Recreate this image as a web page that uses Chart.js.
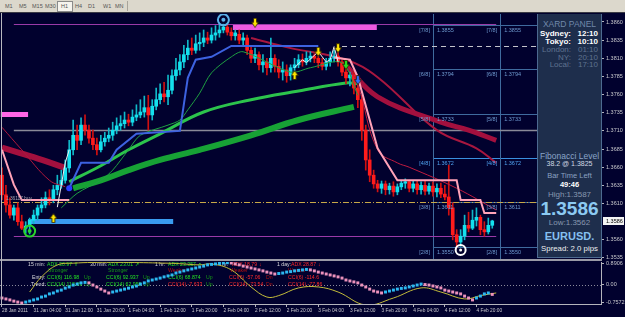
<!DOCTYPE html>
<html>
<head>
<meta charset="utf-8">
<script src="https://cdn.jsdelivr.net/npm/chart.js@4.4.0/dist/chart.umd.min.js"></script>
<style>
  html, body { margin: 0; padding: 0; }
  body { width: 625px; height: 317px; overflow: hidden; position: relative; background: #01012e;
         font-family: "Liberation Sans", Arial, sans-serif; }
  #toolbar { position: absolute; left: 0; top: 0; width: 625px; height: 12px; background: #dcd8cc; border-bottom: 1px solid #3a3a44; }
  #toolbar span { position: absolute; top: 3px; font-size: 5.5px; line-height: 6px; color: #555; }
  #toolbar .on { top: 1px; height: 9px; width: 14px; border: 1px solid #8a8a8a; background: #f6f4ee; }
  #toolbar .sep { position: absolute; top: 1px; width: 1px; height: 10px; background: #a8a49a; }
  canvas { position: absolute; left: 0; }
  #sep { position: absolute; left: 0; top: 259px; width: 602px; height: 2px; background: #9a9aa6; }
  #frame { position: absolute; left: 1px; top: 13px; width: 1px; height: 292px; background: #b8b8c0; }
  #panel { position: absolute; left: 537px; top: 14px; width: 63px; height: 243px; background: #1e2e4c; border: 1px solid #4d6a90; border-top: 0; }
  #panel div { position: absolute; white-space: nowrap; }
  .c { left: 0; width: 63px; text-align: center; }
  .l { left: 0; width: 33px; text-align: right; }
  .r { left: 34px; width: 26px; text-align: right; }
</style>
</head>
<body>
<div id="toolbar">
  <span style="left:5px">M1</span>
  <span style="left:19px">M5</span>
  <span style="left:32px">M15</span>
  <span style="left:45px">M30</span>
  <div class="on" style="position:absolute;left:57px"></div>
  <span style="left:61px">H1</span>
  <span style="left:75px">H4</span>
  <span style="left:88px">D1</span>
  <span style="left:103px">W1</span>
  <span style="left:115px">MN</span>
  <div class="sep" style="left:127px"></div>
</div>
<canvas id="main" width="625" height="248" style="top:14px"></canvas>
<canvas id="sub" width="625" height="56" style="top:261px"></canvas>
<div id="sep"></div>
<div id="frame"></div>
<div id="panel">
  <div class="c" style="top:5px;font-size:8.5px;color:#7088aa">XARD PANEL</div>
  <div class="l" style="top:15px;font-size:8px;font-weight:bold;color:#fff">Sydney:</div>
  <div class="r" style="top:15px;font-size:8px;font-weight:bold;color:#fff">12:10</div>
  <div class="l" style="top:23px;font-size:8px;font-weight:bold;color:#fff">Tokyo:</div>
  <div class="r" style="top:23px;font-size:8px;font-weight:bold;color:#fff">10:10</div>
  <div class="l" style="top:31px;font-size:8px;color:#5f7290">London:</div>
  <div class="r" style="top:31px;font-size:8px;color:#5f7290">01:10</div>
  <div class="l" style="top:39px;font-size:8px;color:#5f7290">NY:</div>
  <div class="r" style="top:39px;font-size:8px;color:#5f7290">20:10</div>
  <div class="l" style="top:46px;font-size:8px;color:#5f7290">Local:</div>
  <div class="r" style="top:46px;font-size:8px;color:#5f7290">17:10</div>
  <div class="c" style="top:137px;font-size:8.5px;color:#8aa4c8">Fibonacci Level</div>
  <div class="c" style="top:146px;font-size:7px;color:#d0d8e4">38.2 @ 1.3825</div>
  <div class="c" style="top:157px;font-size:7.5px;color:#8aa0c0">Bar Time Left</div>
  <div class="c" style="top:166px;font-size:7.5px;font-weight:bold;color:#fff">49:46</div>
  <div class="c" style="top:176px;font-size:8px;color:#8898b0">High:1.3587</div>
  <div class="c" style="top:184px;font-size:19px;line-height:22px;font-weight:bold;color:#8ccaf2">1.3586</div>
  <div class="c" style="top:204px;font-size:8px;color:#8898b0">Low:1.3562</div>
  <div class="c" style="top:216px;font-size:11px;font-weight:bold;color:#86c0f0">EURUSD.</div>
  <div class="c" style="top:230px;font-size:7.8px;color:#f0f0f0">Spread: 2.0 pips</div>
</div>
<script>
// H1 candles, bar 0 = 28 Jan 2011 20:00
const opens = [1.3649,1.3622,1.3608,1.3594,1.3604,1.3585,1.3576,1.3579,1.3587,1.3594,
  1.3604,1.3608,1.3618,1.3615,1.3629,1.3635,1.3642,1.3659,1.3684,1.3704,
  1.3697,1.3718,1.3711,1.3700,1.3691,1.3684,1.3695,1.3700,1.3704,1.3711,
  1.3717,1.3720,1.3725,1.3722,1.3729,1.3732,1.3736,1.3742,1.3732,1.3744,
  1.3753,1.3761,1.3757,1.3766,1.3786,1.3794,1.3805,1.3815,1.3824,1.3821,
  1.3830,1.3832,1.3838,1.3835,1.3842,1.3845,1.3849,1.3853,1.3846,1.3841,
  1.3843,1.3835,1.3838,1.3821,1.3810,1.3815,1.3801,1.3805,1.3797,1.3810,
  1.3799,1.3791,1.3794,1.3786,1.3797,1.3801,1.3808,1.3805,1.3810,1.3813,
  1.3810,1.3804,1.3799,1.3805,1.3810,1.3813,1.3805,1.3791,1.3783,1.3787,
  1.3769,1.3753,1.3711,1.3670,1.3649,1.3637,1.3631,1.3637,1.3629,1.3634,
  1.3626,1.3633,1.3638,1.3640,1.3631,1.3637,1.3629,1.3635,1.3627,1.3634,
  1.3626,1.3631,1.3623,1.3619,1.3604,1.3567,1.3557,1.3565,1.3580,1.3576,
  1.3587,1.3591,1.3574,1.3571,1.3580];
const highs = [1.3659,1.3635,1.3618,1.3608,1.3611,1.3594,1.3585,1.3590,1.3601,1.3608,
  1.3618,1.3626,1.3629,1.3635,1.3649,1.3656,1.3670,1.3697,1.3725,1.3718,
  1.3728,1.3732,1.3718,1.3711,1.3700,1.3704,1.3708,1.3714,1.3722,1.3728,
  1.3731,1.3736,1.3733,1.3739,1.3746,1.3753,1.3758,1.3759,1.3753,1.3769,
  1.3775,1.3777,1.3787,1.3794,1.3810,1.3815,1.3828,1.3835,1.3838,1.3842,
  1.3845,1.3849,1.3846,1.3852,1.3855,1.3856,1.3857,1.3856,1.3852,1.3849,
  1.3849,1.3845,1.3842,1.3828,1.3824,1.3819,1.3815,1.3810,1.3838,1.3815,
  1.3808,1.3805,1.3801,1.3801,1.3810,1.3815,1.3816,1.3819,1.3819,1.3816,
  1.3813,1.3810,1.3810,1.3819,1.3821,1.3819,1.3808,1.3797,1.3791,1.3791,
  1.3773,1.3759,1.3718,1.3684,1.3656,1.3642,1.3641,1.3641,1.3638,1.3640,
  1.3637,1.3642,1.3644,1.3642,1.3641,1.3641,1.3640,1.3641,1.3638,1.3640,
  1.3637,1.3638,1.3635,1.3663,1.3611,1.3574,1.3574,1.3594,1.3598,1.3601,
  1.3604,1.3594,1.3585,1.3590,1.3587];
const lows = [1.3615,1.3598,1.3590,1.3587,1.3580,1.3574,1.3569,1.3568,1.3582,1.3587,
  1.3598,1.3604,1.3608,1.3611,1.3622,1.3631,1.3638,1.3653,1.3677,1.3684,
  1.3691,1.3704,1.3693,1.3684,1.3677,1.3681,1.3689,1.3695,1.3697,1.3706,
  1.3711,1.3714,1.3717,1.3717,1.3724,1.3728,1.3729,1.3711,1.3725,1.3739,
  1.3747,1.3750,1.3746,1.3761,1.3780,1.3787,1.3797,1.3808,1.3815,1.3817,
  1.3821,1.3826,1.3830,1.3831,1.3835,1.3839,1.3845,1.3842,1.3835,1.3835,
  1.3830,1.3828,1.3815,1.3804,1.3804,1.3794,1.3791,1.3787,1.3791,1.3791,
  1.3783,1.3780,1.3777,1.3780,1.3791,1.3797,1.3799,1.3801,1.3805,1.3804,
  1.3797,1.3794,1.3794,1.3799,1.3805,1.3799,1.3786,1.3775,1.3772,1.3761,
  1.3742,1.3697,1.3656,1.3640,1.3631,1.3626,1.3624,1.3622,1.3623,1.3620,
  1.3622,1.3629,1.3631,1.3626,1.3626,1.3623,1.3623,1.3622,1.3623,1.3620,
  1.3619,1.3618,1.3615,1.3594,1.3560,1.3549,1.3551,1.3560,1.3571,1.3574,
  1.3579,1.3567,1.3565,1.3568,1.3576];
const closes = [1.3622,1.3608,1.3594,1.3604,1.3585,1.3576,1.3579,1.3587,1.3594,1.3604,
  1.3608,1.3618,1.3615,1.3629,1.3635,1.3642,1.3659,1.3684,1.3704,1.3697,
  1.3718,1.3711,1.3700,1.3691,1.3684,1.3695,1.3700,1.3704,1.3711,1.3717,
  1.3720,1.3725,1.3722,1.3729,1.3732,1.3736,1.3742,1.3732,1.3744,1.3753,
  1.3761,1.3757,1.3766,1.3786,1.3794,1.3805,1.3815,1.3824,1.3821,1.3830,
  1.3832,1.3838,1.3835,1.3842,1.3845,1.3849,1.3853,1.3846,1.3841,1.3845,
  1.3835,1.3838,1.3821,1.3810,1.3815,1.3801,1.3805,1.3797,1.3810,1.3799,
  1.3791,1.3794,1.3786,1.3797,1.3801,1.3808,1.3805,1.3810,1.3813,1.3810,
  1.3804,1.3799,1.3805,1.3810,1.3813,1.3805,1.3791,1.3783,1.3787,1.3769,
  1.3753,1.3711,1.3670,1.3649,1.3637,1.3631,1.3637,1.3629,1.3634,1.3626,
  1.3633,1.3638,1.3640,1.3631,1.3637,1.3629,1.3635,1.3627,1.3634,1.3626,
  1.3631,1.3623,1.3619,1.3604,1.3567,1.3557,1.3565,1.3580,1.3576,1.3587,
  1.3591,1.3574,1.3571,1.3580,1.3586];

// indicator lines, [bar, price] knots
const blueTrail = [[17,1.3631],[20,1.3666],[27,1.3666],[29,1.3684],[34,1.3706],[45,1.3710],[47,1.3783],[49,1.3808],[53,1.3812],[58,1.3827],[80,1.3827]];
const pinkLeft = [[0,1.3684],[3,1.3636],[5,1.3615],[17,1.3615]];
const pinkRight = [[84,1.3811],[88,1.3808],[90,1.3784],[95,1.3686],[100,1.3642],[115,1.3642],[116,1.3615],[121,1.3615],[122,1.3597],[125,1.3597]];
const whiteUp = [[14,1.3605],[16,1.3666],[17,1.3684]];
const whiteZig = [[74,1.3797],[76,1.3808],[77,1.3804],[80,1.3819],[82,1.3805],[83,1.3808],[84,1.3826],[85,1.3805]];
const greenThin = [[15,1.3604],[19,1.3624],[25,1.3642],[28,1.3656],[32,1.3684],[35,1.3704],[42,1.3718],[45,1.3725],[47,1.3739],[50,1.3762],[53,1.3790],[58,1.3812],[61,1.3819],[73,1.3791],[78,1.3797],[86,1.3804],[90,1.3759]];
const greenUpper = [[17,1.3640],[25,1.3662],[32,1.3684],[40,1.3706],[51,1.3736],[63,1.3753],[75,1.3765],[87,1.3776],[90,1.3775]];
const greenLower = [[18,1.3631],[25,1.3642],[32,1.3656],[40,1.3670],[50,1.3684],[63,1.3704],[75,1.3725],[89,1.3743]];
const crimsonLeft = [[0,1.3687],[8,1.3674],[16,1.3659]];
const crimsonLeftThin = [[0,1.3715],[5,1.3684],[12,1.3642],[16,1.3633]];
const crimsonMid = [[63,1.3838],[73,1.3824],[87,1.3808],[95,1.3784],[110,1.3711],[120,1.3686],[125,1.3666]];
const crimsonThick = [[87,1.3800],[95,1.3757],[111,1.3722],[118,1.3711],[125,1.3697]];
const crimsonThin = [[87,1.3805],[90,1.3773],[95,1.3684],[100,1.3666],[103,1.3660],[115,1.3631],[125,1.3601]];

// signal marks
const upYellow = [[13,1.3590],[74,1.3787]];
const downYellow = [[64,1.3859],[80,1.3819],[85,1.3824]];
const downGreen = [[87,1.3801]];
const downBlue = [[90,1.3780]];
const ringGreen = [[7,1.3572]];
const ringBlue = [[56,1.3863]];
const ringWhite = [[116,1.3546]];
const dotBlue = [[17,1.3631]];

// levels
const fibLabels = ["[7/8]", "[6/8]", "[5/8]", "[4/8]", "[3/8]", "[2/8]"];
const fibPrices = [1.3855, 1.3794, 1.3733, 1.3672, 1.3611, 1.3550];
const fibBars = [109, 126];
const purpleTop = 1.3856, purpleLow = 1.3564, grayLevel = 1.3710, fibTarget = 1.3826, buyLevel = 1.3612;
const zonePrices = [1.3733, 1.3852, 1.3585];
const zoneFrom = [-0.3, 58.4, 6.6];
const zoneTo = [6.6, 94.8, 43.3];
const currentPrice = 1.3586;
const priceTicks = [1.3860,1.3835,1.3810,1.3785,1.3760,1.3735,1.3710,1.3685,1.3660,1.3635,1.3610,1.3560,1.3535];

// lower window
const cci = [-0.55,-0.59,-0.63,-0.68,-0.72,-0.76,-0.72,-0.68,-0.63,-0.59,
  -0.51,-0.47,-0.38,-0.34,-0.26,-0.22,-0.14,-0.09,-0.01,0.03,
  0.08,0.10,0.08,-0.01,-0.09,-0.18,-0.26,-0.34,-0.30,-0.26,
  -0.22,-0.18,-0.14,-0.09,-0.05,0.03,0.08,0.16,0.20,0.24,
  0.28,0.33,0.37,0.41,0.49,0.53,0.58,0.62,0.66,0.70,
  0.74,0.78,0.83,0.85,0.87,0.89,0.91,0.92,0.91,0.87,
  0.83,0.78,0.74,0.70,0.66,0.62,0.58,0.53,0.49,0.45,
  0.47,0.49,0.53,0.55,0.58,0.60,0.62,0.64,0.62,0.58,
  0.53,0.49,0.45,0.41,0.37,0.33,0.28,0.20,0.16,0.12,
  0.08,-0.01,-0.09,-0.18,-0.26,-0.30,-0.34,-0.30,-0.26,-0.22,
  -0.18,-0.15,-0.13,-0.09,-0.05,-0.01,0.03,0.01,-0.01,-0.05,
  -0.09,-0.13,-0.22,-0.26,-0.30,-0.34,-0.38,-0.47,-0.55,-0.63,
  -0.55,-0.47,-0.38,-0.34,-0.40];
const yellowWave = [[7,-0.30],[10,0.33],[14,0.83],[18,0.90],[23,0.93],[32,0.93],[42,0.90],[45,0.88],[50,0.83],[53,0.87],[58,0.62],[63,-0.09],[67,-0.51],[70,-0.45],[75,-0.13],[80,-0.09],[85,-0.30],[92,-0.84],[99,-0.55],[106,-0.13],[111,-0.30],[117,-0.59],[121,-0.45],[125,-0.34]];
const cciTicks = [0.8906, 0, -0.7572];

const tickBars = [0,8,16,24,32,40,48,56,64,72,80,88,96,104,112,120];
const tickText = ["28 Jan 2011","31 Jan 04:00","31 Jan 12:00","31 Jan 20:00","1 Feb 04:00","1 Feb 12:00",
  "1 Feb 20:00","2 Feb 04:00","2 Feb 12:00","2 Feb 20:00","3 Feb 04:00","3 Feb 12:00","3 Feb 20:00",
  "4 Feb 04:00","4 Feb 12:00","4 Feb 20:00"];

const SLOTS = 152;
const slots = Array.from({ length: SLOTS }, (_, i) => String(i));
const pts = knots => knots.map(([b, v]) => ({ x: String(b), y: v }));

const FONT = '"Liberation Sans", Arial, sans-serif';
Chart.defaults.font.family = FONT;
const AXIS = '#b4b4bc';
const UP = '#14e0ee', DOWN = '#ff1c1c';

function arrowSprite(color, down) {
  const c = document.createElement('canvas');
  c.width = 8; c.height = 10;
  const g = c.getContext('2d');
  g.fillStyle = color;
  g.strokeStyle = 'rgba(40,30,0,0.8)';
  g.lineWidth = 1;
  g.beginPath();
  if (down) {
    g.moveTo(2.5, 0.5); g.lineTo(5.5, 0.5); g.lineTo(5.5, 4.5); g.lineTo(7.5, 4.5);
    g.lineTo(4, 9.5); g.lineTo(0.5, 4.5); g.lineTo(2.5, 4.5);
  } else {
    g.moveTo(2.5, 9.5); g.lineTo(5.5, 9.5); g.lineTo(5.5, 5.5); g.lineTo(7.5, 5.5);
    g.lineTo(4, 0.5); g.lineTo(0.5, 5.5); g.lineTo(2.5, 5.5);
  }
  g.closePath(); g.fill(); g.stroke();
  return c;
}

const lineSet = (knots, color, width, order, tension, dash) => ({
  type: 'line', data: pts(knots), borderColor: color, borderWidth: width,
  pointRadius: 0, tension: tension || 0, order: order, fill: false,
  borderDash: dash || [], borderJoinStyle: 'miter'
});
const markSet = (knots, style, radius, order, extra) => Object.assign({
  type: 'line', data: pts(knots), showLine: false, pointStyle: style,
  pointRadius: radius, pointHoverRadius: radius, order: order
}, extra || {});

const candleColor = opens.map((o, i) => closes[i] >= o ? UP : DOWN);
const wickColor = opens.map((o, i) => closes[i] >= o ? '#10b8c8' : '#d01010');

const mainOverlay = {
  id: 'mainOverlay',
  beforeDatasetsDraw(chart) {
    const { ctx, chartArea: a, scales: { x, y } } = chart;
    ctx.save();
    ctx.beginPath(); ctx.rect(a.left, a.top, a.width, a.height); ctx.clip();
    const seg = (p, b0, b1, color, width, dash) => {
      let yy = y.getPixelForValue(p);
      if (width % 2) yy = Math.round(yy - 0.5) + 0.5; else yy = Math.round(yy);
      const x0 = b0 === null ? a.left : x.getPixelForValue(b0);
      const x1 = b1 === null ? a.right : x.getPixelForValue(b1);
      ctx.beginPath(); ctx.strokeStyle = color; ctx.lineWidth = width; ctx.setLineDash(dash || []);
      ctx.moveTo(x0, yy); ctx.lineTo(x1, yy); ctx.stroke();
    };
    fibPrices.forEach((p, k) => seg(p, fibBars[0], null, k === 3 ? '#3a90e0' : '#3f6b9e', 1));
    fibBars.forEach(b => {
      const xx = Math.round(x.getPixelForValue(b)) + 0.5;
      ctx.beginPath(); ctx.strokeStyle = '#3f6b9e'; ctx.lineWidth = 1; ctx.setLineDash([]);
      ctx.moveTo(xx, a.top); ctx.lineTo(xx, a.bottom); ctx.stroke();
    });
    seg(grayLevel, 3, null, '#8a8a98', 1.5);
    seg(purpleTop, 3, 125, '#9a3aa8', 1);
    seg(purpleLow, 3, 125, '#9a3aa8', 1);
    seg(fibTarget, 86, null, '#c4c4cc', 1, [5, 4]);
    seg(buyLevel, 0, null, '#c8a848', 1, [6, 2, 1, 2]);
    const zoneColors = ['#ff66e6', '#ee5ae0', '#3a9cf0'];
    zonePrices.forEach((p, k) => seg(p, zoneFrom[k], zoneTo[k], zoneColors[k], 5));
    ctx.restore();
  },
  afterDatasetsDraw(chart) {
    const { ctx, scales: { x, y } } = chart;
    ctx.save();
    ctx.font = '5.5px ' + FONT;
    ctx.textBaseline = 'middle';
    fibBars.forEach(b => {
      const xx = x.getPixelForValue(b);
      fibPrices.forEach((p, k) => {
        const yy = y.getPixelForValue(p) + 5;
        ctx.fillStyle = k === 3 ? '#4fa2f0' : '#6f9bd0';
        ctx.textAlign = 'right'; ctx.fillText(fibLabels[k], xx - 3, yy);
        ctx.textAlign = 'left'; ctx.fillText(p.toFixed(4), xx + 4, yy);
      });
    });
    ctx.font = '4.8px ' + FONT;
    ctx.fillStyle = '#a8a8b0';
    ctx.textAlign = 'left';
    ctx.fillText('1.36117 buy', x.getPixelForValue(1), y.getPixelForValue(buyLevel) - 3);
    ctx.restore();
  },
  afterDraw(chart) {
    const { ctx, chartArea: a, scales: { y } } = chart;
    const yy = Math.round(y.getPixelForValue(currentPrice));
    ctx.save();
    ctx.fillStyle = '#f4f4f4';
    ctx.fillRect(a.right + 2, yy - 4, 21, 8);
    ctx.fillStyle = '#000';
    ctx.font = '5.5px ' + FONT;
    ctx.textBaseline = 'middle';
    ctx.fillText(currentPrice.toFixed(4), a.right + 5, yy + 0.5);
    ctx.restore();
  }
};

new Chart(document.getElementById('main'), {
  type: 'bar',
  data: {
    labels: slots,
    datasets: [
      lineSet(greenLower, '#17a235', 6, 30, 0.4),
      lineSet(greenUpper, '#2cc44c', 3, 30, 0.4),
      lineSet(crimsonLeft, '#a3103e', 6, 30, 0.4),
      lineSet(crimsonThick, '#a3103e', 5, 30, 0.4),
      lineSet(crimsonMid, '#a8173f', 2, 30, 0.4),
      { type: 'bar', data: highs.map((h, i) => [lows[i], h]), backgroundColor: wickColor,
        barThickness: 1, grouped: false, borderWidth: 0, order: 20 },
      { type: 'bar', data: opens.map((o, i) => [o, closes[i]]), backgroundColor: candleColor,
        barThickness: 3, grouped: false, borderWidth: 0, minBarLength: 1, order: 19 },
      lineSet(crimsonLeftThin, '#b0183c', 1, 10, 0.4),
      lineSet(crimsonThin, '#c01c40', 1, 10, 0.4),
      lineSet(greenThin, '#1fa042', 1, 10, 0.3),
      lineSet(blueTrail, '#3d62e0', 2, 9, 0),
      lineSet(pinkLeft, '#ffa2b8', 2, 9, 0),
      lineSet(pinkRight, '#ffa2b8', 2, 9, 0),
      lineSet(whiteUp, '#f0f0f0', 1, 8, 0),
      lineSet(whiteZig, '#f0f0f0', 1, 8, 0),
      markSet(upYellow, arrowSprite('#ffe600', false), 5, 2),
      markSet(downYellow, arrowSprite('#ffe600', true), 5, 2),
      markSet(downGreen, arrowSprite('#22dd22', true), 5, 2),
      markSet(downBlue, arrowSprite('#2a6cff', true), 5, 2),
      markSet(ringGreen, 'circle', 5.5, 2, { pointBackgroundColor: 'rgba(0,0,0,0)', pointBorderColor: '#2ad42a', pointBorderWidth: 2 }),
      markSet(ringGreen, 'circle', 2, 2, { pointBackgroundColor: '#2ad42a', pointBorderWidth: 0 }),
      markSet(ringBlue, 'circle', 5.5, 2, { pointBackgroundColor: 'rgba(0,0,0,0)', pointBorderColor: '#5ab0e8', pointBorderWidth: 2 }),
      markSet(ringBlue, 'circle', 2, 2, { pointBackgroundColor: '#5ab0e8', pointBorderWidth: 0 }),
      markSet(ringWhite, 'circle', 5, 2, { pointBackgroundColor: 'rgba(0,0,0,0)', pointBorderColor: '#ffffff', pointBorderWidth: 2 }),
      markSet(ringWhite, 'circle', 1.5, 2, { pointBackgroundColor: '#ffffff', pointBorderWidth: 0 }),
      markSet(dotBlue, 'circle', 3, 2, { pointBackgroundColor: '#2a40ff', pointBorderWidth: 0 })
    ]
  },
  options: {
    responsive: false, animation: false, devicePixelRatio: 1,
    layout: { autoPadding: false, padding: { left: 0, right: 0, top: 0, bottom: 3 } },
    plugins: { legend: { display: false }, tooltip: { enabled: false } },
    scales: {
      x: { type: 'category', display: false, offset: true },
      y: {
        position: 'right', min: 1.35336, max: 1.38710,
        afterBuildTicks: s => { s.ticks = priceTicks.map(v => ({ value: v })); },
        afterFit: s => { s.width = 24; s.paddingTop = 0; s.paddingBottom = 0; },
        ticks: { color: '#c8c8cc', font: { size: 5.5 }, padding: 2, callback: v => v.toFixed(4) },
        grid: { drawOnChartArea: false, tickLength: 3, color: AXIS },
        border: { color: AXIS }
      }
    }
  },
  plugins: [mainOverlay]
});

// lower window texts
const TW = '#d8d8dc', TG = '#24e024', TDG = '#169a16', TR = '#ff2a2a', TDR = '#b01010';
const subTexts = [
  ['15 min:', 28, 265, TW], ['ADX 30.97', 47, 265, TG], ['⇑', 74, 265, TG],
  ['30 min:', 90, 265, TW], ['ADX 23.01', 108, 265, TG], ['↗', 135, 265, TG],
  ['1 hr:', 155, 265, TW], ['ADX 23.357', 168, 265, TG], ['↗', 197, 265, TG],
  ['4 hr:', 218, 265, TW], ['ADX 18.79', 232, 265, TR], ['↓', 259, 265, TR],
  ['1 day:', 277, 265, TW], ['ADX 28.87', 291, 265, TR], ['↓', 318, 265, TR],
  ['Stronger', 48, 271, TDG], ['Stronger', 108, 271, TDG], ['Weaker', 168, 271, TDR],
  ['Weaker', 230, 271, TDR], ['Weaker', 288, 271, TDR],
  ['Entry:', 32, 278, TW], ['CCI(6) 116.98', 47, 278, TG], ['Up', 84, 278, TDG],
  ['CCI(6) 92.937', 106, 278, TG], ['Up', 143, 278, TDG], ['CCI(6) 68.874', 168, 278, TG],
  ['Up', 206, 278, TDG], ['CCI(6) -57.06', 229, 278, TR], ['Dn', 266, 278, TDR],
  ['CCI(6) -114.6', 288, 278, TR],
  ['Trend:', 31, 285, TW], ['CCI(14) 118.09', 47, 285, TG], ['Up', 84, 285, TDG],
  ['CCI(14) 62.950', 106, 285, TG], ['Up', 143, 285, TDG], ['CCI(14) -7.633', 168, 285, TR],
  ['Up', 206, 285, TDG], ['CCI(14) -73.54', 229, 285, TR], ['Dn', 266, 285, TDR],
  ['CCI(14) -77.86', 288, 285, TR]
];

const subOverlay = {
  id: 'subOverlay',
  beforeDatasetsDraw(chart) {
    const { ctx, chartArea: a, scales: { y } } = chart;
    ctx.save();
    const yy = Math.round(y.getPixelForValue(0)) + 0.5;
    ctx.strokeStyle = '#8a8a9a'; ctx.lineWidth = 1; ctx.setLineDash([1, 2]);
    ctx.beginPath(); ctx.moveTo(a.left, yy); ctx.lineTo(a.right, yy); ctx.stroke();
    ctx.font = '5.2px ' + FONT;
    ctx.textBaseline = 'middle'; ctx.textAlign = 'left';
    subTexts.forEach(([t, px, py, c]) => { ctx.fillStyle = c; ctx.fillText(t, px, py - 261); });
    ctx.restore();
  }
};

const cciColor = cci.map((v, i) => i > 0 && v >= cci[i - 1] ? '#2cb8f0' : '#ec92bc');
for (let i = 1; i < cci.length; i++) if (cci[i] === cci[i - 1]) cciColor[i] = cciColor[i - 1];

new Chart(document.getElementById('sub'), {
  type: 'line',
  data: {
    labels: slots,
    datasets: [
      { data: pts(yellowWave), borderColor: '#c4bc3a', borderWidth: 1, tension: 0.4, pointRadius: 0, order: 5 },
      { data: cci, showLine: false, pointStyle: 'rect', pointRadius: 2.1, pointBorderWidth: 0,
        pointBackgroundColor: cciColor, order: 1 }
    ]
  },
  options: {
    responsive: false, animation: false, devicePixelRatio: 1,
    layout: { autoPadding: false, padding: { left: 0, right: 0, top: 1, bottom: 0 } },
    plugins: { legend: { display: false }, tooltip: { enabled: false } },
    scales: {
      x: {
        type: 'category', offset: true,
        afterBuildTicks: s => { s.ticks = tickBars.map(v => ({ value: v })); },
        afterFit: s => { s.height = 13; s.paddingLeft = 0; s.paddingRight = 0; },
        ticks: { autoSkip: false, maxRotation: 0, align: 'start', padding: 1, color: '#c8c8cc',
                 font: { size: 4.8 }, callback: v => tickText[tickBars.indexOf(v)] },
        grid: { drawOnChartArea: false, offset: false, tickLength: 3, color: AXIS },
        border: { color: AXIS }
      },
      y: {
        position: 'right', min: -0.80, max: 0.95,
        afterBuildTicks: s => { s.ticks = cciTicks.map(v => ({ value: v })); },
        afterFit: s => { s.width = 24; s.paddingTop = 0; s.paddingBottom = 0; },
        ticks: { color: '#c8c8cc', font: { size: 5.5 }, padding: 2,
                 callback: v => v === 0 ? '0.00' : v.toFixed(4) },
        grid: { drawOnChartArea: false, tickLength: 3, color: AXIS },
        border: { color: AXIS }
      }
    }
  },
  plugins: [subOverlay]
});
</script>
</body>
</html>
